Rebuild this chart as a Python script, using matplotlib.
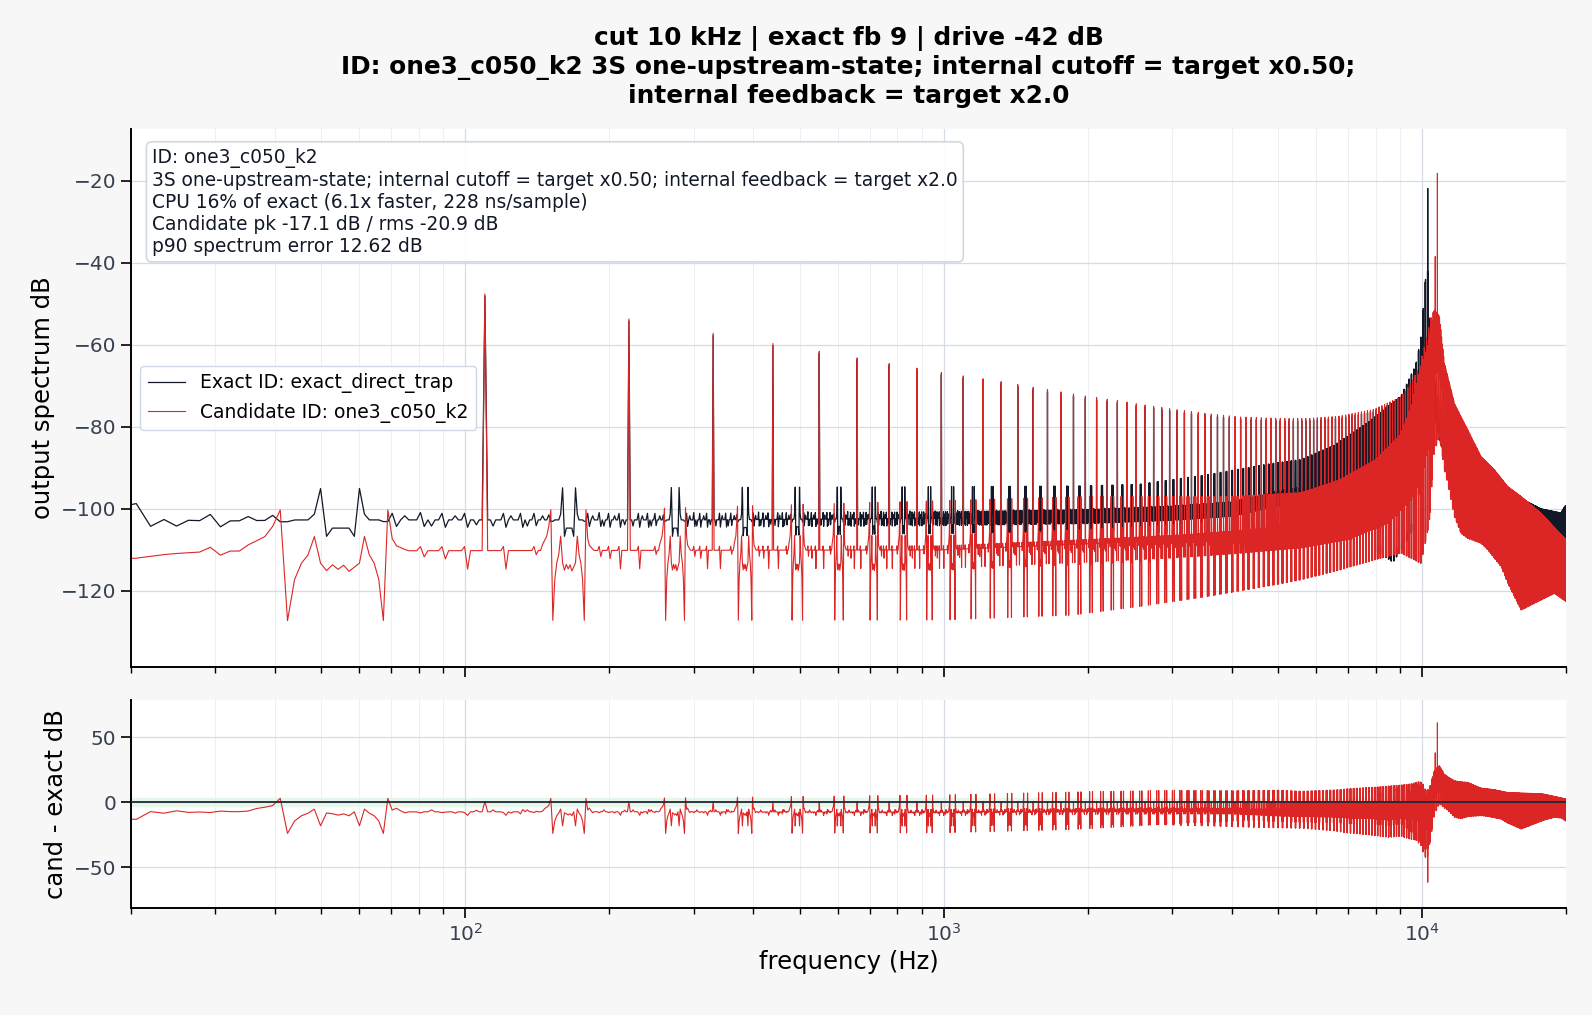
import matplotlib
matplotlib.use("Agg")
import matplotlib.pyplot as plt
import numpy as np

# FFT bin grid of the measurement (48 kHz, 32768 points); fundamental = 75 bins (~109.9 Hz)
fs = 48000
nfft = 32768
period = 75
bins = np.arange(13, 13654)
freq = bins * fs / nfft
offs = bins % period
harm = bins // period

# ---- candidate (red) ----
# harmonic peak levels, n = 1..27
cand_peaks = [-47.6, -53.7, -57.2, -59.7, -61.6, -63.2, -64.6, -65.7, -66.8,
              -67.6, -68.3, -69.0, -69.7, -70.4, -70.9, -71.5, -72.0, -72.5,
              -72.9, -73.3, -73.6, -74.0, -74.4, -74.7, -75.0, -75.3, -75.6]
cand_peak_f = [2966, 3545, 4159, 5047, 5740, 6738, 7912, 9036, 9484, 9873, 10195,
               10500, 10870, 11136, 11685, 12462, 13289, 14168, 15110, 16113, 17742, 20000]
cand_peak_db = [-75.6, -76.8, -77.6, -78.0, -78.0, -77.4, -75.8, -72.7, -69.4, -65.3, -58.8,
                -52.0, -53.0, -64.5, -74.3, -80.8, -87.3, -90.5, -94.6, -97.0, -101.1, -107.6]
# resonance harmonics
cand_res_f = [10656, 10766]
cand_res_db = [-38.5, -18.2]

cand_floor_f = [20, 24, 30, 1000, 2000, 3000, 4000, 5600, 7000, 8500, 9500, 10000, 10300,
                10600, 10870, 11136, 11685, 12462, 13289, 14168, 15110, 16113, 17742, 20000]
cand_floor_db = [-112.2, -111.0, -110.3, -110.0, -108.5, -107.5, -106.5, -105.0, -103.0, -99.0,
                 -93.0, -88.0, -80.0, -62.0, -62.0, -70.0, -79.0, -85.0, -91.0, -94.5,
                 -98.5, -101.0, -105.0, -111.0]
cand_up_f = [20, 200, 1000, 2000, 4000, 5600, 6700, 8000, 9000, 9500, 9800, 10300, 10600,
             10870, 11136, 11685, 12462, 13289, 14168, 15110, 16113, 17742, 20000]
cand_up_db = [-100.3, -100.2, -98.0, -97.0, -97.0, -96.0, -93.0, -88.0, -82.0, -75.0, -68.0,
              -60.0, -51.5, -53.0, -64.5, -74.3, -80.8, -87.3, -90.5, -94.6, -97.0, -101.1, -107.6]
cand_dip_f = [20, 1000, 1862, 2571, 3545, 4886, 5583, 6738, 7912, 9036, 9952, 10358, 10600,
              10872, 11136, 11315, 11685, 12067, 12462, 13289, 13726, 14634, 15110, 16113,
              17179, 18916, 20000]
cand_dip_db = [-127.3, -127.1, -125.9, -123.8, -121.4, -118.6, -117.3, -114.9, -112.5, -110.8,
               -113.3, -103.5, -86.0, -82.4, -90.5, -93.8, -101.9, -106.0, -107.2, -108.4,
               -110.0, -114.1, -118.1, -124.7, -123.0, -120.6, -122.6]
# shape of one period: bin offset, level kind (f floor, u up, d dip), dB relative to it
cand_shape_bin = [7, 8, 20, 21, 24, 25, 26, 27, 28, 29, 30, 31, 32, 33, 34, 35, 36, 37, 38,
                  39, 40, 41, 42, 43, 44, 45, 46, 47, 48, 49, 50, 51, 55, 56, 61, 62, 68, 69]
cand_shape_kind = ["f", "f", "f", "f", "f", "f", "f", "u", "u", "d",
                   "f", "f", "f", "f", "f", "f", "f", "f", "f", "f", "f", "f", "f", "f", "f", "f",
                   "d", "u", "u", "f", "f", "f", "f", "f", "f", "f", "f", "f"]
cand_shape_rel = [1.0, -4.5, 1.0, -1.0, 1.5, 2.5, 3.5, -4.0, 0.0, 0.0,
                  -7.0, -3.0, -1.0, 3.5, -3.0, -4.8, -3.4, -4.5, -3.5, -5.0, -4.0, -3.0, 3.5,
                  -1.0, -3.0, -7.0, 0.0, 0.0, -7.0, 1.2, 0.8, 0.3, 1.0, -1.5, 1.0, -2.0, 1.0, -4.5]

# ---- exact (black) ----
exact_res_f = [10267, 10278]
exact_res_db = [-42.0, -21.9]
exact_floor_f = [19, 20.5, 22, 30, 45, 300, 1000, 2000, 3000, 4000, 5000, 5740, 6738, 7912,
                 9000, 9600, 10000, 10200, 10400, 10600, 10800, 11136, 11685, 12462, 13289,
                 14168, 16113, 17742, 20000]
exact_floor_db = [-99.5, -100.3, -102.5, -103.0, -102.7, -102.7, -102.3, -101.8, -101.0, -100.0,
                  -97.5, -96.3, -94.4, -90.4, -86.0, -82.0, -76.0, -64.0, -64.0, -75.0, -80.0,
                  -85.0, -91.0, -95.0, -98.0, -100.0, -102.0, -104.0, -106.0]
exact_spike_f = [20, 1000, 2000, 2571, 3545, 4886, 5583, 6554, 7698, 9036, 9700, 9952, 10200,
                 10400, 10600, 10800, 11136, 12462, 14168, 16113, 17742, 19500, 20000]
exact_spike_db = [-95.2, -94.6, -94.4, -94.0, -91.7, -88.9, -88.0, -84.5, -79.0, -72.5, -65.0,
                  -58.0, -42.0, -55.0, -65.0, -72.0, -80.0, -90.0, -95.0, -97.5, -100.0,
                  -101.0, -99.0]
exact_inner_f = [20, 300, 1000, 2000, 4000, 6000, 7500, 8700, 9500, 10000, 10200, 10400, 10800,
                 11136, 12462, 14168, 16113, 20000]
exact_inner_db = [-106.7, -106.7, -106.0, -105.5, -105.0, -106.0, -108.0, -113.0, -106.0, -92.0,
                  -75.0, -75.0, -80.0, -88.0, -102.0, -106.0, -107.0, -108.0]
exact_dip_f = [20, 300, 1000, 2000, 3000, 5000, 7000, 8000, 9000, 9500, 10000, 10200, 10400,
               10700, 11136, 12462, 14168, 16113, 18000, 20000]
exact_dip_db = [-103.2, -103.0, -103.5, -105.0, -106.0, -105.5, -102.0, -99.5, -95.0, -89.0,
                -80.0, -70.0, -70.0, -78.0, -86.0, -96.0, -100.0, -104.0, -108.0, -110.0]
# shape of one period: f floor, s spike pair, i between the spikes, j under the candidate dips
exact_shape_bin = [3, 7, 8, 10, 14, 15, 17, 20, 21, 24, 27, 28, 29, 33, 34, 35, 36, 37, 38,
                   39, 40, 41, 42, 46, 47, 48, 49, 51, 55, 56, 58, 61, 62, 65, 68, 69, 72]
exact_shape_kind = ["f", "f", "f", "f", "f", "f", "f", "f", "f", "f", "f", "j", "j", "f",
                    "s", "i", "i", "i", "i", "i", "i", "s", "f", "j", "j",
                    "f", "f", "f", "f", "f", "f", "f", "f", "f", "f", "f", "f"]
exact_shape_rel = [-1.5, 1.6, -1.8, 1.0, 1.6, -1.8, -1.5, 1.6, -1.4, 1.0, 1.2, 0.0, 0.0, 1.4,
                   0.0, 0.0, 2.0, 2.0, 2.0, 2.0, 0.0, 0.0, 1.4, 0.0, 0.0,
                   1.6, -1.6, 1.0, 1.8, -1.6, -1.5, 1.6, -1.8, 1.0, 1.6, -1.8, -1.2]
exact_peak_fmax = 9500     # below this the exact output shares the candidate's harmonic peaks

info_lines = ["ID: one3_c050_k2",
              "3S one-upstream-state; internal cutoff = target x0.50; internal feedback = target x2.0",
              "CPU 16% of exact (6.1x faster, 228 ns/sample)",
              "Candidate pk -17.1 dB / rms -20.9 dB",
              "p90 spectrum error 12.62 dB"]
title_lines = ["cut 10 kHz | exact fb 9 | drive -42 dB",
               "ID: one3_c050_k2 3S one-upstream-state; internal cutoff = target x0.50;",
               "internal feedback = target x2.0"]


def env(fa, da):
    return np.interp(np.log10(freq), np.log10(fa), da)


def build(levels, shape_bin, shape_kind, shape_rel):
    out = levels["f"].copy()
    for b, k, r in zip(shape_bin, shape_kind, shape_rel, strict=True):
        m = offs == b
        out[m] = levels[k][m] + r
    return out


cand_lv = {"f": env(cand_floor_f, cand_floor_db), "u": env(cand_up_f, cand_up_db),
           "d": env(cand_dip_f, cand_dip_db)}
cand = build(cand_lv, cand_shape_bin, cand_shape_kind, cand_shape_rel)
peak_hi = env(cand_peak_f, cand_peak_db)
pk = (offs == 0) & (harm >= 1)
low = pk & (harm <= len(cand_peaks))
cand[low] = np.array(cand_peaks)[harm[low] - 1]
cand[pk & ~low] = peak_hi[pk & ~low]

exact_lv = {"f": env(exact_floor_f, exact_floor_db), "s": env(exact_spike_f, exact_spike_db),
            "i": env(exact_inner_f, exact_inner_db), "j": env(exact_dip_f, exact_dip_db)}
exact = build(exact_lv, exact_shape_bin, exact_shape_kind, exact_shape_rel)
shared = pk & (freq < exact_peak_fmax)
exact[shared] = cand[shared] - 0.5

for f, d in zip(cand_res_f, cand_res_db):
    cand[np.argmin(np.abs(freq - f))] = d
for f, d in zip(exact_res_f, exact_res_db):
    exact[np.argmin(np.abs(freq - f))] = d

diff = cand - exact

# ---- plot ----
black = "#111827"
red = "#dc2626"
tick_col = "#374151"
fig = plt.figure(figsize=(15.92, 10.15), dpi=100, facecolor="#f7f7f7")
ax = fig.add_axes([0.0823, 0.3429, 0.9014, 0.5300])
ax2 = fig.add_axes([0.0823, 0.1054, 0.9014, 0.2049], sharex=ax)

ax.plot(freq, exact, color=black, lw=0.9, label="Exact ID: exact_direct_trap")
ax.plot(freq, cand, color=red, lw=0.8, label="Candidate ID: one3_c050_k2")
ax2.axhspan(-3, 3, color="#e6f6ea", zorder=0)
ax2.axhline(0, color="#1f2937", lw=1.3, zorder=3)
ax2.plot(freq, diff, color=red, lw=0.8, zorder=2)

for a in (ax, ax2):
    a.set_facecolor("white")
    a.set_xscale("log")
    a.grid(True, which="major", color="#d5dce6", lw=0.9)
    a.grid(True, which="minor", axis="x", color="#eceff4", lw=0.7)
    a.set_axisbelow(True)
    for s in ("top", "right"):
        a.spines[s].set_visible(False)
    for s in ("left", "bottom"):
        a.spines[s].set_linewidth(1.4)
    a.tick_params(which="major", length=7, width=1.2, labelsize=14.5, labelcolor=tick_col)
    a.tick_params(which="minor", length=4, width=1.0)

ax.set_xlim(20, 20000)
ax.set_ylim(-138.55, -7.4)
ax.set_yticks([-120, -100, -80, -60, -40, -20])
ax2.set_ylim(-81.5, 78.5)
ax2.set_yticks([-50, 0, 50])
plt.setp(ax.get_xticklabels(), visible=False)

ax.set_ylabel("output spectrum dB", fontsize=17.5)
ax2.set_ylabel("cand - exact dB", fontsize=17.5)
ax2.set_xlabel("frequency (Hz)", fontsize=17.5)

ax.text(0.0146, 0.964, "\n".join(info_lines), transform=ax.transAxes, va="top", ha="left",
        fontsize=13.4, color=black,
        bbox=dict(boxstyle="round,pad=0.3", fc="white", ec="#cbd5e1", lw=1.2, alpha=0.92))
ax.legend(loc="center left", fontsize=13.5, framealpha=0.92, edgecolor="#cbd5e1")

ax.set_title("\n".join(title_lines), fontsize=17.8, fontweight="bold", pad=19)

fig.savefig("out.png", dpi=100, facecolor=fig.get_facecolor())
